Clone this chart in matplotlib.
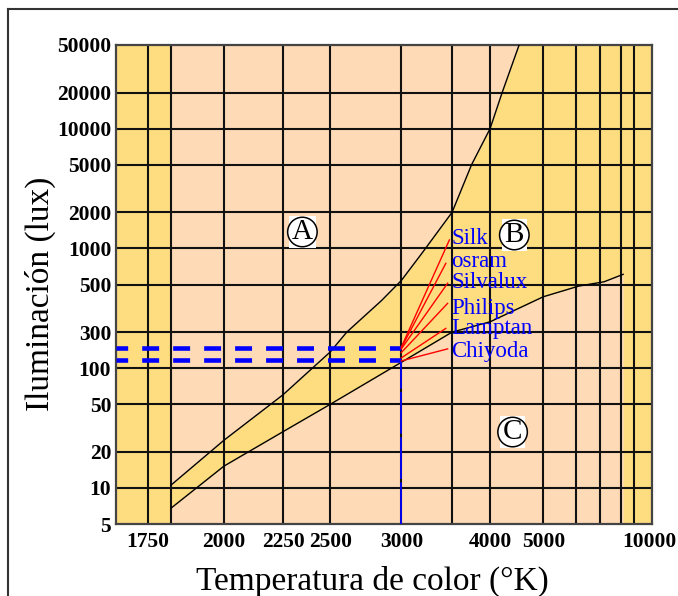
import numpy as np
import matplotlib
matplotlib.use("Agg")
import matplotlib.pyplot as plt
from matplotlib.lines import Line2D
from matplotlib.ticker import NullLocator

plt.rcParams["lines.scale_dashes"] = False

# ---- data -----------------------------------------------------------------
# Kruithof boundaries: colour temperature (K) vs illuminance (lux)
upper_T = [1820, 2000, 2250, 2500, 2600, 2840, 3000, 3180, 3500, 3740, 4000, 4190, 4490]
upper_lux = [10.6, 25, 60, 137, 200, 366, 540, 900, 2000, 5000, 10000, 20000, 50000]

lower_T = [1820, 2000, 2250, 2500, 3000, 3500, 4000, 5000, 6000, 7000, 8000]
lower_lux = [6.8, 15.2, 29.5, 50, 112, 200, 244, 395, 485, 527, 608]

# lamp brands at 3000 K
lamp_names = ["Silk", "osram", "Silvalux", "Philips", "Lamptan", "Chiyoda"]
lamp_T = 3000
lamp_lux = [150, 148, 145, 135, 122, 115]
lamp_end_T = [3470, 3430, 3450, 3450, 3430, 3450]
lamp_end_lux = [1178, 751, 512, 348, 215, 145]
lamp_label_lux = [1216, 775, 518, 318, 215, 137]
lamp_label_T = 3490

# recommended band at 3000 K
band_lux = [148, 118]
band_T_end = 3000
band_floor_lux = 112

# regions
region_names = ["A", "B", "C"]
region_T = [2346, 4401, 4370]
region_lux = [1372, 1295, 29.3]

# axes, grid and ticks
T_min, T_max = 1663, 10215
lux_min, lux_max = 5, 50000
grid_T = [1750, 1820, 2000, 2250, 2500, 3000, 3500, 4000, 5000, 5900, 6800, 7900, 8700]
grid_lux = [10, 20, 50, 100, 200, 500, 1000, 2000, 5000, 10000, 20000]
xtick_T = [1750, 2000, 2250, 2500, 3000, 4000, 5000, 10000]
xtick_labels = ["1750", "2000", "2250", "2500", "3000", "4000", "5000", "10000"]
ytick_lux = [5, 10, 20, 50, 100, 200, 500, 1000, 2000, 5000, 10000, 20000, 50000]
ytick_labels = ["5", "10", "20", "50", "100", "300", "500", "1000", "2000",
                "5000", "10000", "20000", "50000"]

YELLOW = "#FEDD80"
PEACH = "#FEDAB6"
BLUE = "#0000FF"
SERIF = ["Liberation Serif", "DejaVu Serif"]

# ---- figure ---------------------------------------------------------------
W, H = 678, 596
fig = plt.figure(figsize=(W / 100, H / 100), dpi=100)
fig.patch.set_facecolor("white")
ax = fig.add_axes([116 / W, 1 - 524 / H, (652 - 116) / W, (524 - 45) / H])


def to_mired(t):
    t = np.asarray(t, dtype=float)
    return -1e6 / np.maximum(t, 1.0)


def from_mired(m):
    m = np.asarray(m, dtype=float)
    return -1e6 / np.minimum(m, -1e-6)


ax.set_xscale("function", functions=(to_mired, from_mired))
ax.set_yscale("log")
ax.set_xlim(T_min, T_max)
ax.set_ylim(lux_min, lux_max)
ax.set_facecolor(YELLOW)

# comfort regions
ax.fill_between(upper_T, upper_lux, lux_max, color=PEACH, lw=0, zorder=1)
ax.fill_between(lower_T, lux_min, lower_lux, color=PEACH, lw=0, zorder=1)

# grid
for t in grid_T:
    ax.axvline(t, color="#111111", lw=1.5, zorder=2)
for v in grid_lux:
    ax.axhline(v, color="#111111", lw=1.5, zorder=2)

# boundary curves
ax.plot(upper_T, upper_lux, color="black", lw=1.0, zorder=3)
ax.plot(lower_T, lower_lux, color="black", lw=1.0, zorder=3)

# recommended band (dashed blue)
for v in band_lux:
    ax.plot([T_min, band_T_end], [v, v], color=BLUE, lw=3.3,
            linestyle=(3.8, (12.2, 10.1)), solid_capstyle="butt",
            dash_capstyle="butt", zorder=4)
ax.plot([lamp_T, lamp_T], [lux_min, band_floor_lux], color=BLUE, lw=1.3,
        linestyle=(0, (30, 2.5)), zorder=4)

# lamp leaders and names
for name, l0, t1, l1, ll in zip(lamp_names, lamp_lux, lamp_end_T,
                                lamp_end_lux, lamp_label_lux):
    ax.plot([lamp_T, t1], [l0, l1], color="red", lw=1.0, zorder=5)
    ax.text(lamp_label_T, ll, name, color=BLUE, fontsize=16.5, family=SERIF,
            ha="left", va="center", zorder=6)

# region markers
for name, t, v in zip(region_names, region_T, region_lux):
    ax.text(t, v, name, color="white", fontsize=21, family=SERIF,
            ha="center", va="center", zorder=6,
            bbox=dict(boxstyle="square,pad=0.1", fc="white", ec="none"))
    ax.text(t, v, name, color="black", fontsize=21, family=SERIF,
            ha="center", va="center", zorder=7,
            bbox=dict(boxstyle="circle,pad=0.06", fc="white", ec="black", lw=1.1))

# ticks
ax.set_xticks(xtick_T)
ax.set_xticklabels(xtick_labels)
ax.set_yticks(ytick_lux)
ax.set_yticklabels(ytick_labels)
ax.xaxis.set_minor_locator(NullLocator())
ax.yaxis.set_minor_locator(NullLocator())
for lab in ax.get_xticklabels() + ax.get_yticklabels():
    lab.set_family(SERIF)
    lab.set_fontweight("bold")
    lab.set_fontsize(15.5)
ax.tick_params(axis="x", length=0, pad=6)
ax.tick_params(axis="y", length=0, pad=3.5)

for sp in ax.spines.values():
    sp.set_color("#444444")
    sp.set_linewidth(1.6)

# axis titles
fig.text(372 / W, 1 - 581 / H, "Temperatura de color (°K)", ha="center",
         va="center", fontsize=24, family=SERIF)
fig.text(40 / W, 1 - 294 / H, "Iluminación (lux)", ha="center", va="center",
         rotation=90, fontsize=24, family=SERIF)

# outer frame
fig.add_artist(Line2D([8 / W, 1.01], [1 - 9 / H, 1 - 9 / H],
                      transform=fig.transFigure, color="#333333", lw=1.5))
fig.add_artist(Line2D([8 / W, 8 / W], [-0.01, 1 - 9 / H],
                      transform=fig.transFigure, color="#333333", lw=1.5))

fig.savefig("out.png", dpi=100)
